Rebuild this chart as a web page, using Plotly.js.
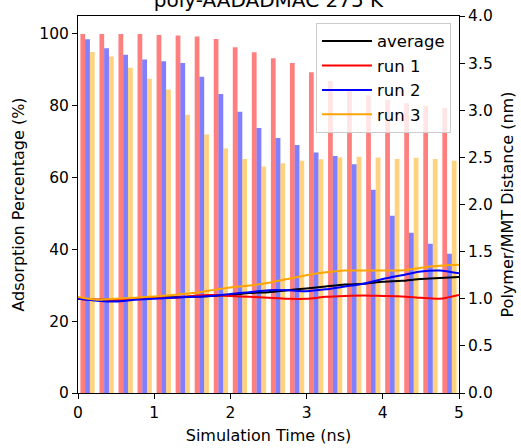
<!DOCTYPE html>
<html>
<head>
<meta charset="utf-8">
<script src="https://cdn.plot.ly/plotly-3.0.1.min.js"></script>
<style>html,body{margin:0;padding:0;background:#fff;}#chart{width:521px;height:448px;}</style>
</head>
<body>
<div id="chart"></div>
<script>
// Bar bins (ns, centre of each 0.25 ns bin)
const binCentres = [0.125,0.375,0.625,0.875,1.125,1.375,1.625,1.875,2.125,2.375,2.625,2.875,3.125,3.375,3.625,3.875,4.125,4.375,4.625,4.875];
// Adsorption percentage per run (%)
const adsRun1 = [100,100,100,100,99.7,99.6,99.3,98.6,96.3,94.9,93.2,91.9,89.3,86.9,84.2,82.9,81.7,80.7,80.0,79.4];
const adsRun2 = [98.5,96.0,94.2,92.9,92.4,91.9,88.1,83.3,78.3,73.8,71.0,69.1,67.0,66.0,63.7,56.6,49.4,44.6,41.6,38.8];
const adsRun3 = [95.0,93.7,90.6,87.5,84.5,77.5,72.0,68.1,65.2,63.1,64.0,64.7,65.1,65.6,65.8,65.6,65.2,65.5,65.2,64.7];

// Polymer/MMT distance (nm)
const times = [0,0.25,0.5,0.75,1.0,1.25,1.5,1.75,2.0,2.25,2.5,2.75,3.0,3.25,3.5,3.75,4.0,4.25,4.5,4.75,5.0];
const distAvg  = [1.00,0.99,0.99,1.00,1.01,1.015,1.02,1.03,1.04,1.06,1.07,1.09,1.11,1.13,1.15,1.16,1.18,1.19,1.21,1.22,1.23];
const distRun1 = [1.00,0.99,0.99,1.00,1.01,1.01,1.03,1.04,1.03,1.02,1.01,1.00,1.00,1.02,1.03,1.035,1.03,1.025,1.01,1.00,1.04];
const distRun2 = [1.00,0.98,0.97,0.99,1.00,1.01,1.02,1.03,1.05,1.07,1.09,1.09,1.08,1.10,1.13,1.16,1.21,1.25,1.29,1.30,1.27];
const distRun3 = [1.02,0.99,1.00,1.01,1.025,1.04,1.06,1.09,1.12,1.14,1.17,1.21,1.25,1.28,1.30,1.30,1.30,1.30,1.33,1.35,1.36];

const FONT = "DejaVu Sans, Liberation Sans, sans-serif";

function barTrace(y, color){
  return {type:'bar', x:binCentres, y:y, marker:{color:color, line:{width:0}},
          showlegend:false, hoverinfo:'skip', xaxis:'x', yaxis:'y'};
}
function lineTrace(y, color, name){
  return {type:'scatter', mode:'lines', x:times, y:y, name:name, legendgroup:name,
          line:{color:color, width:2, shape:'spline', smoothing:0.6},
          xaxis:'x', yaxis:'y2'};
}

const data = [
  barTrace(adsRun1, 'rgba(255,0,0,0.5)'),
  barTrace(adsRun2, 'rgba(0,0,255,0.5)'),
  barTrace(adsRun3, 'rgba(255,165,0,0.5)'),
  lineTrace(distAvg, '#000000', 'average'),
  lineTrace(distRun1, '#ff0000', 'run 1'),
  lineTrace(distRun2, '#0000ff', 'run 2'),
  lineTrace(distRun3, '#ffa500', 'run 3')
];

const layout = {
  width:521, height:448,
  margin:{l:78, r:62, t:16, b:55, pad:0},
  paper_bgcolor:'#fff', plot_bgcolor:'#fff',
  font:{family:FONT, size:15.5, color:'#000'},
  title:{text:'poly-AADADMAC 275 K', font:{family:FONT, size:20, color:'#000'},
         x:0.5, xref:'paper', xanchor:'center', y:1.0, yref:'container', yanchor:'middle'},
  barmode:'group', bargap:0.25, bargroupgap:0,
  showlegend:true,
  legend:{x:0.979, y:0.982, xanchor:'right', yanchor:'top', xref:'paper', yref:'paper',
          bgcolor:'rgba(255,255,255,0.8)', bordercolor:'#cccccc', borderwidth:1,
          itemwidth:50, traceorder:'normal', tracegroupgap:1.5,
          font:{family:FONT, size:16.5, color:'#000'}},
  xaxis:{range:[0,5], tickmode:'array', tickvals:[0,1,2,3,4,5], ticktext:['0','1','2','3','4','5'],
         showgrid:false, zeroline:false, showline:true, linecolor:'#000', linewidth:1, mirror:true,
         ticks:'outside', ticklen:5, tickwidth:1, tickcolor:'#000',
         title:{text:'Simulation Time (ns)', font:{family:FONT, size:16}, standoff:9}},
  yaxis:{range:[0,105], tickmode:'array', tickvals:[0,20,40,60,80,100],
         showgrid:false, zeroline:false, showline:true, linecolor:'#000', linewidth:1,
         ticks:'outside', ticklen:5, tickwidth:1, tickcolor:'#000',
         title:{text:'Adsorption Percentage (%)', font:{family:FONT, size:16}, standoff:10}},
  yaxis2:{range:[0,4], overlaying:'y', side:'right', tickmode:'array',
          tickvals:[0,0.5,1,1.5,2,2.5,3,3.5,4], ticktext:['0.0','0.5','1.0','1.5','2.0','2.5','3.0','3.5','4.0'],
          showgrid:false, zeroline:false, showline:true, linecolor:'#000', linewidth:1,
          ticks:'outside', ticklen:5, tickwidth:1, tickcolor:'#000',
          title:{text:'Polymer/MMT Distance (nm)', font:{family:FONT, size:16}, standoff:10}}
};

Plotly.newPlot('chart', data, layout, {displayModeBar:false, staticPlot:true});
</script>
</body>
</html>
